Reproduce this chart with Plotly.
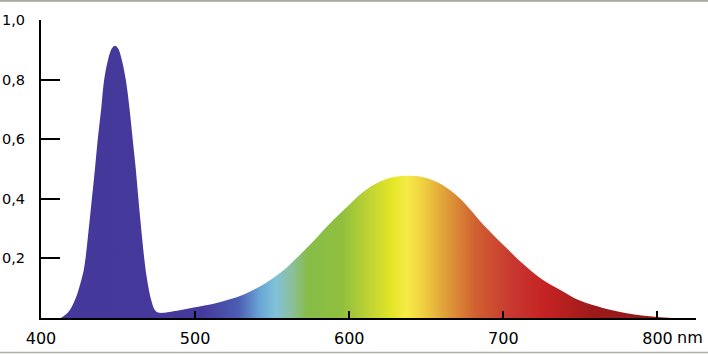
import plotly.graph_objects as go

# Emission spectrum of a white LED (relative intensity vs wavelength, nm)
wavelength = [411, 413.5, 415.6, 418, 420, 422, 423.8, 425.5, 427.5, 429, 431, 433, 435,
              436.8, 439, 441, 443.5, 446, 448, 450, 452.4, 455, 457.5, 459.5, 461.5,
              463.2, 465, 467, 468.5, 470, 471.5, 472.8, 474, 475.5, 478,
              490, 500, 512, 522, 532, 542, 550, 558, 566, 574, 587, 598, 609, 620,
              630, 640, 650, 660, 672, 687, 700, 711, 725, 737, 748, 758, 770, 780,
              790, 800, 810]
intensity = [0.0, 0.002, 0.01, 0.022, 0.038, 0.06, 0.085, 0.115, 0.155, 0.205, 0.3, 0.4, 0.5,
             0.6, 0.7, 0.8, 0.867, 0.905, 0.914, 0.905, 0.867, 0.8, 0.7, 0.6, 0.5,
             0.4, 0.3, 0.2, 0.14, 0.095, 0.06, 0.038, 0.026, 0.019, 0.017,
             0.026, 0.036, 0.048, 0.062, 0.08, 0.106, 0.132, 0.163, 0.202, 0.243, 0.315,
             0.37, 0.423, 0.458, 0.474, 0.477, 0.47, 0.448, 0.4, 0.313, 0.245, 0.19,
             0.13, 0.094, 0.062, 0.044, 0.027, 0.016, 0.008, 0.003, 0.0]

x_ticks = [400, 500, 600, 700, 800]
x_tick_labels = ["400", "500", "600", "700", "800"]
y_ticks = [0.2, 0.4, 0.6, 0.8, 1.0]
y_tick_labels = ["0,2", "0,4", "0,6", "0,8", "1,0"]
unit_label = "nm"

X_MIN, X_MAX = 400, 825

# colour of the spectrum at given wavelengths (style)
spec_nm = [400, 505, 528, 542, 552, 563, 573, 595, 615, 628, 637, 648, 662, 682, 705, 728, 760, 825]
spec_col = ["#44399a", "#453a9c", "#4c5db2", "#6aa5d6", "#80c2da", "#8bbf9a", "#86bd48",
            "#8fbf3e", "#c5d632", "#e4e626", "#f6ec46", "#f0d040", "#e0a038", "#d06030",
            "#c83830", "#c42222", "#9c1a1a", "#8a1a1a"]
colorscale = [[(n - X_MIN) / (X_MAX - X_MIN), c] for n, c in zip(spec_nm, spec_col)]

fig = go.Figure()
fig.add_trace(go.Scatter(
    x=wavelength, y=intensity, mode="lines",
    line=dict(width=0, shape="spline", smoothing=1.0, color="rgba(0,0,0,0)"),
    fill="tozeroy",
    fillgradient=dict(type="horizontal", colorscale=colorscale, start=X_MIN, stop=X_MAX),
    hoverinfo="skip", showlegend=False,
))

W, H = 708, 354
ml, mr, mt, mb = 41, 12, 20, 36
pw, ph = W - ml - mr, H - mt - mb

x_font = dict(family="DejaVu Sans", size=16, color="#000000")
y_font = dict(family="DejaVu Sans", size=14.5, color="#000000")
fig.update_layout(
    width=W, height=H,
    margin=dict(l=ml, r=mr, t=mt, b=mb, autoexpand=False),
    paper_bgcolor="white", plot_bgcolor="white",
    xaxis=dict(range=[X_MIN, X_MAX], tickvals=x_ticks, ticktext=x_tick_labels,
               showgrid=False, zeroline=False, showline=True, linecolor="black",
               linewidth=2, ticks="inside", ticklen=7, tickwidth=2, tickcolor="black",
               tickfont=x_font, ticklabelstandoff=5, automargin=False),
    yaxis=dict(range=[0, 1], tickvals=y_ticks, ticktext=y_tick_labels,
               showgrid=False, zeroline=False, showline=True, linecolor="black",
               linewidth=2, ticks="inside", ticklen=19, tickwidth=2, tickcolor="black",
               tickfont=y_font, ticklabelstandoff=11, automargin=False),
    annotations=[dict(x=800, y=0, xref="x", yref="y", text=unit_label, showarrow=False,
                      xanchor="left", yanchor="top", xshift=18, yshift=-8,
                      font=x_font)],
    shapes=[
        dict(type="line", xref="paper", yref="paper", x0=-ml / pw, x1=(W - ml) / pw,
             y0=1 + (mt - 0.8) / ph, y1=1 + (mt - 0.8) / ph,
             line=dict(color="#a8a8a2", width=2)),
        dict(type="line", xref="paper", yref="paper", x0=-ml / pw, x1=(W - ml) / pw,
             y0=-(352.5 - (H - mb)) / ph, y1=-(352.5 - (H - mb)) / ph,
             line=dict(color="#b0b0aa", width=1.5)),
    ],
)

fig.write_html("out.html")
